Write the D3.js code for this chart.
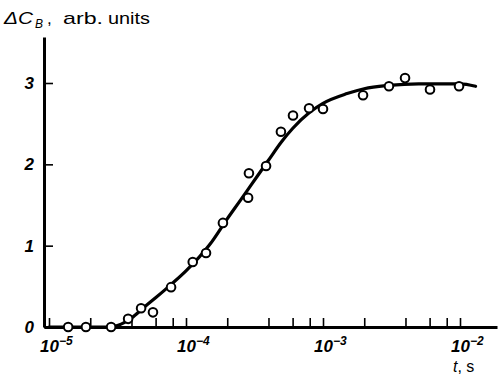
<!DOCTYPE html>
<html><head><meta charset="utf-8">
<script src="https://cdn.jsdelivr.net/npm/d3@7"></script>
<style>
body{margin:0;background:#fff;}
svg{display:block;}
</style></head>
<body>
<svg id="chart" width="499" height="375"></svg>
<script>
// measured points
const pointT = [1.38e-5,1.86e-5,2.84e-5,3.78e-5,4.70e-5,5.74e-5,7.78e-5,1.12e-4,1.40e-4,1.86e-4,2.84e-4,2.88e-4,3.84e-4,4.93e-4,6.04e-4,7.91e-4,1.0e-3,1.96e-3,3.03e-3,3.97e-3,6.04e-3,9.84e-3];
const pointY = [0,0,0,0.10,0.23,0.18,0.49,0.80,0.91,1.28,1.59,1.89,1.98,2.40,2.60,2.69,2.68,2.85,2.96,3.06,2.92,2.96];
// fitted curve
const curveT = [1e-5,2e-5,2.8e-5,3.2e-5,4e-5,5e-5,6e-5,8e-5,1e-4,1.5e-4,2e-4,2.5e-4,3e-4,4e-4,5e-4,6e-4,8e-4,1e-3,1.5e-3,2e-3,3e-3,5e-3,1e-2,1.3e-2];
const curveY = [0,0,0,0.02,0.11,0.25,0.36,0.54,0.69,1.02,1.33,1.56,1.75,2.05,2.28,2.44,2.64,2.75,2.87,2.93,2.97,2.99,2.99,2.96];
// ticks
const xMajor = [1e-5,1e-4,1e-3,1e-2];
const xMajorExp = ["\u22125","\u22124","\u22123","\u22122"];
const xMinorMult = [2,4,6,8];
const yTicks = [0,1,2,3];
const yTitle = ["arb.","units"];
const xTitle = "s";

const svg = d3.select("#chart");
const FONT = "'Liberation Sans', Arial, sans-serif";

const xBase = d3.scaleLog().domain([1e-5,1e-2]).range([49,460]);
const x = d3.scaleLog().domain([xBase.invert(44), xBase.invert(497)]).range([44,497]);
const yBase = d3.scaleLinear().domain([0,3]).range([327,83]);
const y = d3.scaleLinear().domain([0, yBase.invert(37)]).range([327,37]);

const xTickVals = [];
xMajor.forEach(m => { xTickVals.push(m); if (m < 1e-2) xMinorMult.forEach(k => xTickVals.push(m*k)); });

const gx = svg.append("g").attr("transform","translate(0,327)")
  .call(d3.axisBottom(x).tickValues(xTickVals).tickSize(-9).tickSizeOuter(0).tickFormat(""));
gx.select(".domain").attr("stroke","#000").attr("stroke-width",3);
gx.selectAll(".tick line").attr("stroke","#000").attr("stroke-width",1.6);

const gy = svg.append("g").attr("transform","translate(44,0)")
  .call(d3.axisLeft(y).tickValues(yTicks).tickSize(-9).tickSizeOuter(0).tickFormat(""));
gy.select(".domain").attr("stroke","#000").attr("stroke-width",3);
gy.selectAll(".tick line").attr("stroke","#000").attr("stroke-width",1.6);

// y tick labels
svg.append("g").selectAll("text").data(yTicks).join("text")
  .attr("x",34).attr("y",d=>y(d)+6)
  .attr("text-anchor","end")
  .attr("font-family",FONT).attr("font-size",17).attr("font-style","italic").attr("font-weight","bold")
  .text(d=>d);

// x tick labels 10^n
const xl = svg.append("g").selectAll("text").data(xMajor).join("text")
  .attr("x",d=>x(d)-9).attr("y",352)
  .attr("font-family",FONT).attr("font-size",17).attr("font-style","italic").attr("font-weight","bold");
xl.append("tspan").text("10");
xl.append("tspan").attr("dy",-7).attr("font-size",12).text((d,i)=>xMajorExp[i]);

// curve
const line = d3.line().x(d=>x(d[0])).y(d=>y(d[1])).curve(d3.curveMonotoneX);
svg.append("path").datum(curveT.map((t,i)=>[t,curveY[i]]))
  .attr("d",line).attr("fill","none").attr("stroke","#000").attr("stroke-width",3.2)
  .attr("stroke-linecap","round");

// points
svg.append("g").selectAll("circle").data(pointT.map((t,i)=>[t,pointY[i]])).join("circle")
  .attr("cx",d=>x(d[0])).attr("cy",d=>y(d[1])).attr("r",4.3)
  .attr("fill","#fff").attr("stroke","#000").attr("stroke-width",2);

// y title
const yt = svg.append("text").attr("x",4).attr("y",24)
  .attr("font-family",FONT).attr("font-size",17);
yt.append("tspan").attr("font-style","italic").attr("textLength",29).attr("lengthAdjust","spacingAndGlyphs").text("\u0394C");
yt.append("tspan").attr("font-style","italic").attr("font-size",12).attr("dy",4).attr("dx",2).text("B");
yt.append("tspan").attr("dy",-4).attr("dx",4).text(",");
yt.append("tspan").attr("x",63).attr("textLength",40).attr("lengthAdjust","spacingAndGlyphs").text(yTitle[0]);
yt.append("tspan").attr("x",108).attr("textLength",42).attr("lengthAdjust","spacingAndGlyphs").text(yTitle[1]);

// x title
const xt = svg.append("text").attr("x",453).attr("y",372)
  .attr("font-family",FONT).attr("font-size",16);
xt.append("tspan").attr("font-style","italic").text("t");
xt.append("tspan").text(", " + xTitle);
</script>
</body></html>
